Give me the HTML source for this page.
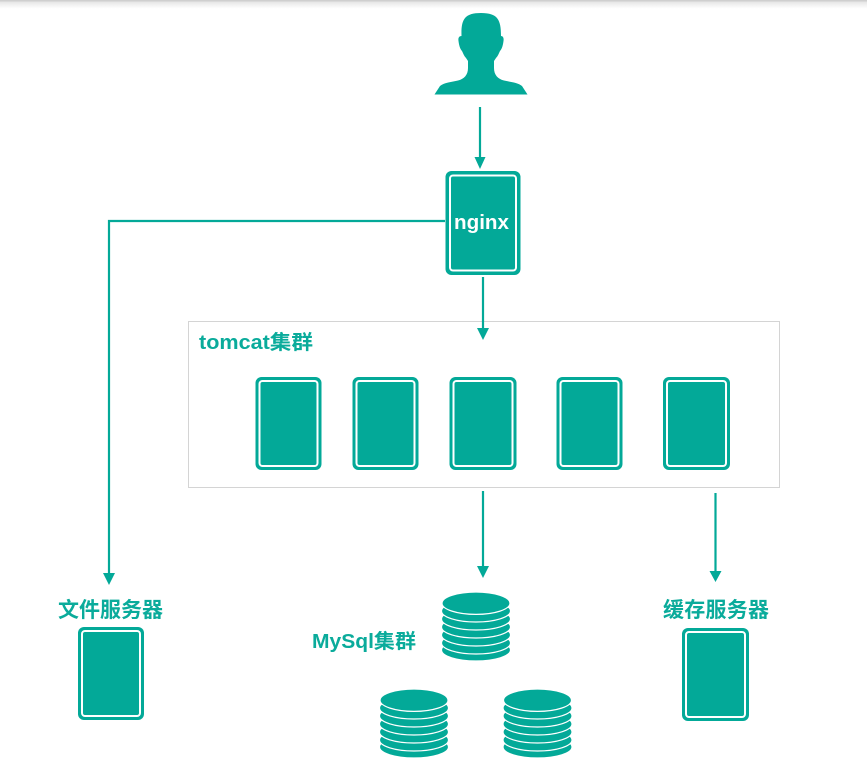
<!DOCTYPE html>
<html><head><meta charset="utf-8">
<style>
html,body{margin:0;padding:0;background:#fff}
svg{display:block}
text{font-family:"Liberation Sans","Noto Sans CJK SC",sans-serif;font-weight:700;fill:#0aab9b}
</style></head>
<body>
<svg width="867" height="767" viewBox="0 0 867 767" xmlns="http://www.w3.org/2000/svg">
<defs>
<linearGradient id="g" x1="0" y1="0" x2="0" y2="1"><stop offset="0" stop-color="#e4e4e4"/><stop offset="1" stop-color="#fff"/></linearGradient>
<g id="db">
  <g fill="#03a998" stroke="#fff" stroke-width="1.200">
    <ellipse cx="0" cy="58" rx="34.500" ry="11"/>
    <ellipse cx="0" cy="51" rx="34.500" ry="11"/>
    <ellipse cx="0" cy="43" rx="34.500" ry="11"/>
    <ellipse cx="0" cy="35" rx="34.500" ry="11"/>
    <ellipse cx="0" cy="27" rx="34.500" ry="11"/>
    <ellipse cx="0" cy="19" rx="34.500" ry="11"/>
    <ellipse cx="0" cy="11.200" rx="34" ry="11.200"/>
  </g>
</g>
</defs>
<rect x="0" y="0" width="867" height="1.500" fill="#cfcfcf"/>
<rect x="0" y="1.500" width="867" height="7" fill="url(#g)"/>

<path fill="#03a998" d="M434.500 94.500L440 86C444 82.500 452 82 458 80.500C464 79 468 75 468 68L468 61L466 58C464 56 463 53 462 51C460 49 459 45 458.500 41C458 38 459 36 461.500 36C461 20 464 13 481 13C498 13 501 20 501 36C503 36 504 38 503.500 41C503 45 502 49 500 51C499 53 498 56 496 58L494 61L494 68C494 75 498 79 504 80.500C510 82 518 82.500 522 86L527.500 94.500Z"/>

<rect x="188.500" y="321.500" width="591" height="166" fill="#fff" stroke="#d4d4d4" stroke-width="1"/>

<g stroke="#03a998" stroke-width="2.200" fill="none">
  <path d="M480 107V158"/>
  <path d="M445 221H109V574"/>
  <path d="M483 277V329"/>
  <path d="M483 491V567"/>
  <path d="M715.500 493V572"/>
</g>
<g fill="#03a998">
  <path d="M474.500 157H485.500L480 169Z"/>
  <path d="M103 573H115L109 585Z"/>
  <path d="M477 328H489L483 340Z"/>
  <path d="M477 566H489L483 578Z"/>
  <path d="M709.500 571H721.500L715.500 582Z"/>
</g>

<g>
  <g fill="#03a998">
    <rect x="445.500" y="171" width="75" height="104" rx="6"/>
    <rect x="255.500" y="377" width="66" height="93" rx="6"/>
    <rect x="352.500" y="377" width="66" height="93" rx="6"/>
    <rect x="449.500" y="377" width="67" height="93" rx="6"/>
    <rect x="556.500" y="377" width="66" height="93" rx="6"/>
    <rect x="663" y="377" width="67" height="93" rx="6"/>
    <rect x="78" y="627" width="66" height="93" rx="6"/>
    <rect x="682" y="628" width="67" height="93" rx="6"/>
  </g>
  <g fill="#03a998" stroke="#fff" stroke-width="2">
    <rect x="450" y="175.500" width="66" height="95" rx="3"/>
    <rect x="259.500" y="381" width="58" height="85" rx="3"/>
    <rect x="356.500" y="381" width="58" height="85" rx="3"/>
    <rect x="453.500" y="381" width="59" height="85" rx="3"/>
    <rect x="560.500" y="381" width="58" height="85" rx="3"/>
    <rect x="667" y="381" width="59" height="85" rx="3"/>
    <rect x="82" y="631" width="58" height="85" rx="3"/>
    <rect x="686" y="632" width="59" height="85" rx="3"/>
  </g>
</g>

<use href="#db" x="476" y="592"/>
<use href="#db" x="414" y="689"/>
<use href="#db" x="537.500" y="689"/>

<text x="454" y="229" font-size="20" textLength="55" lengthAdjust="spacingAndGlyphs" style="fill:#fff">nginx</text>
<text x="199" y="349" font-size="20" textLength="114" lengthAdjust="spacingAndGlyphs">tomcat集群</text>
<text x="58" y="617" font-size="21" textLength="105">文件服务器</text>
<text x="663" y="617" font-size="21" textLength="106">缓存服务器</text>
<text x="312" y="648" font-size="20" textLength="104" lengthAdjust="spacingAndGlyphs">MySql集群</text>
</svg>
</body></html>
